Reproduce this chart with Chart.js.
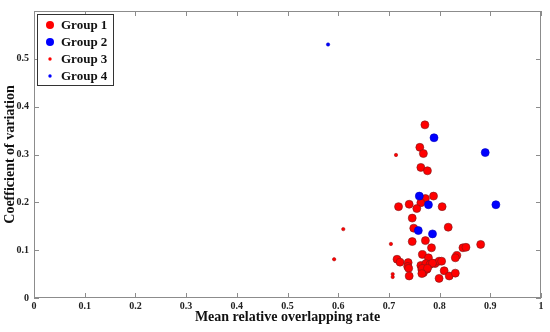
<!DOCTYPE html>
<html>
<head>
<meta charset="utf-8">
<script src="https://cdn.jsdelivr.net/npm/chart.js@4"></script>
<style>
  html, body { margin: 0; padding: 0; background: #fff; }
  #wrap { width: 550px; height: 332px; }
</style>
</head>
<body>
<div id="wrap"><canvas id="myChart"></canvas></div>
<script>
// Datos
var group1X = [0.771, 0.761, 0.768, 0.763, 0.776, 0.788, 0.772, 0.763, 0.740, 0.719, 0.755, 0.805, 0.746, 0.749, 0.817, 0.746,
  0.772, 0.784, 0.846, 0.852, 0.834, 0.831, 0.766, 0.778, 0.716, 0.722, 0.738, 0.737, 0.739, 0.763, 0.773, 0.781,
  0.791, 0.799, 0.804, 0.765, 0.768, 0.775, 0.740, 0.799, 0.809, 0.819, 0.831, 0.881, 0.766, 0.786, 0.776, 0.765];
var group1Y = [0.362, 0.315, 0.302, 0.273, 0.266, 0.213, 0.208, 0.199, 0.196, 0.191, 0.187, 0.191, 0.167, 0.146, 0.148, 0.118,
  0.120, 0.105, 0.105, 0.106, 0.089, 0.084, 0.091, 0.084, 0.081, 0.075, 0.074, 0.066, 0.062, 0.068, 0.072, 0.070,
  0.072, 0.077, 0.077, 0.059, 0.053, 0.060, 0.046, 0.041, 0.057, 0.046, 0.052, 0.112, 0.062, 0.073, 0.062, 0.051];
var group2X = [0.789, 0.890, 0.911, 0.760, 0.778, 0.758, 0.786];
var group2Y = [0.335, 0.304, 0.195, 0.213, 0.195, 0.141, 0.134];
var group3X = [0.714, 0.610, 0.592, 0.704, 0.7075, 0.7075];
var group3Y = [0.299, 0.144, 0.081, 0.113, 0.050, 0.044];
var group4X = [0.580];
var group4Y = [0.530];

var etiquetas = ['Group 1', 'Group 2', 'Group 3', 'Group 4'];

function puntos(xs, ys) {
  var arr = [];
  for (var i = 0; i < xs.length; i++) {
    arr.push({x: xs[i], y: ys[i]});
  }
  return arr;
}

var serif = '"Liberation Serif", "DejaVu Serif", serif';
var gris = '#8c8c8c';

// Ticks hacia adentro en los cuatro lados
var ticksAdentro = {
  id: 'ticksAdentro',
  afterDraw: function(chart) {
    var ctx = chart.ctx;
    var a = chart.chartArea;
    var sx = chart.scales.x, sy = chart.scales.y;
    ctx.save();
    ctx.strokeStyle = gris;
    ctx.lineWidth = 1;
    ctx.strokeRect(a.left + 0.5, a.top + 0.5, a.right - a.left - 1, a.bottom - a.top - 1);
    ctx.beginPath();
    sx.ticks.forEach(function(t) {
      var px = Math.round(sx.getPixelForValue(t.value)) + 0.5;
      ctx.moveTo(px, a.bottom); ctx.lineTo(px, a.bottom - 5);
      ctx.moveTo(px, a.top); ctx.lineTo(px, a.top + 5);
    });
    sy.ticks.forEach(function(t) {
      var py = Math.round(sy.getPixelForValue(t.value)) + 0.5;
      ctx.moveTo(a.left, py); ctx.lineTo(a.left + 5, py);
      ctx.moveTo(a.right, py); ctx.lineTo(a.right - 5, py);
    });
    ctx.stroke();
    ctx.restore();
  }
};

// Leyenda dentro del area de la grafica
var leyenda = {
  id: 'leyenda',
  afterDraw: function(chart) {
    var ctx = chart.ctx;
    var a = chart.chartArea;
    var x0 = a.left + 3, y0 = a.top + 3;
    ctx.save();
    ctx.fillStyle = '#fff';
    ctx.fillRect(x0, y0, 76, 71);
    ctx.strokeStyle = '#333';
    ctx.lineWidth = 1;
    ctx.strokeRect(x0 + 0.5, y0 + 0.5, 76, 71);
    var orden = [0, 1, 2, 3];
    orden.forEach(function(k, i) {
      var ds = chart.data.datasets[k];
      var cy = y0 + 11 + i * 17;
      ctx.beginPath();
      ctx.arc(x0 + 13, cy, ds.pointRadius, 0, Math.PI * 2);
      ctx.fillStyle = ds.backgroundColor;
      ctx.fill();
      ctx.fillStyle = '#111';
      ctx.font = 'bold 13px ' + serif;
      ctx.textBaseline = 'middle';
      ctx.textAlign = 'left';
      ctx.fillText(ds.label, x0 + 24, cy + 1);
    });
    ctx.restore();
  }
};

var ctx = document.getElementById('myChart').getContext('2d');

var data = {
  datasets: [
    {
      label: etiquetas[0],
      data: puntos(group1X, group1Y),
      backgroundColor: '#ff0000',
      borderColor: '#7a1a1a',
      borderWidth: 0.6,
      pointRadius: 4,
      order: 2
    },
    {
      label: etiquetas[1],
      data: puntos(group2X, group2Y),
      backgroundColor: '#0000ff',
      borderColor: '#0000c0',
      borderWidth: 0.6,
      pointRadius: 4,
      order: 1
    },
    {
      label: etiquetas[2],
      data: puntos(group3X, group3Y),
      backgroundColor: '#ff0000',
      borderColor: '#a00000',
      borderWidth: 0.5,
      pointRadius: 1.7,
      order: 0
    },
    {
      label: etiquetas[3],
      data: puntos(group4X, group4Y),
      backgroundColor: '#0000ff',
      borderColor: '#0000c0',
      borderWidth: 0.5,
      pointRadius: 1.7,
      order: 0
    }
  ]
};

var options = {
  responsive: true,
  maintainAspectRatio: false,
  animation: false,
  events: [],
  layout: { padding: { top: 8, right: 9, left: 0, bottom: 0 } },
  plugins: { legend: { display: false }, tooltip: { enabled: false } },
  scales: {
    x: {
      type: 'linear',
      min: 0,
      max: 1,
      border: { display: false },
      grid: { display: false, drawTicks: false },
      ticks: {
        stepSize: 0.1,
        padding: 2,
        color: '#222',
        font: { family: serif, size: 10, weight: 'bold' },
        maxRotation: 0,
        callback: function(v) { return String(Math.round(v * 10) / 10); }
      },
      title: {
        display: true,
        text: 'Mean relative overlapping rate',
        color: '#111',
        font: { family: serif, size: 14, weight: 'bold' },
        padding: { top: 0, bottom: 6 }
      },
      afterFit: function(s) { s.height = 34; }
    },
    y: {
      type: 'linear',
      min: 0,
      max: 0.6,
      border: { display: false },
      grid: { display: false, drawTicks: false },
      ticks: {
        stepSize: 0.1,
        padding: 5,
        color: '#222',
        font: { family: serif, size: 10, weight: 'bold' },
        callback: function(v) {
          if (v > 0.55) return '';
          return String(Math.round(v * 10) / 10);
        }
      },
      title: {
        display: true,
        text: 'Coefficient of variation',
        color: '#111',
        font: { family: serif, size: 14, weight: 'bold' },
        padding: { top: 2, bottom: 0 }
      },
      afterFit: function(s) { s.width = 34; }
    }
  }
};

var myChart = new Chart(ctx, {
  type: 'scatter',
  data: data,
  options: options,
  plugins: [ticksAdentro, leyenda]
});
</script>
</body>
</html>
